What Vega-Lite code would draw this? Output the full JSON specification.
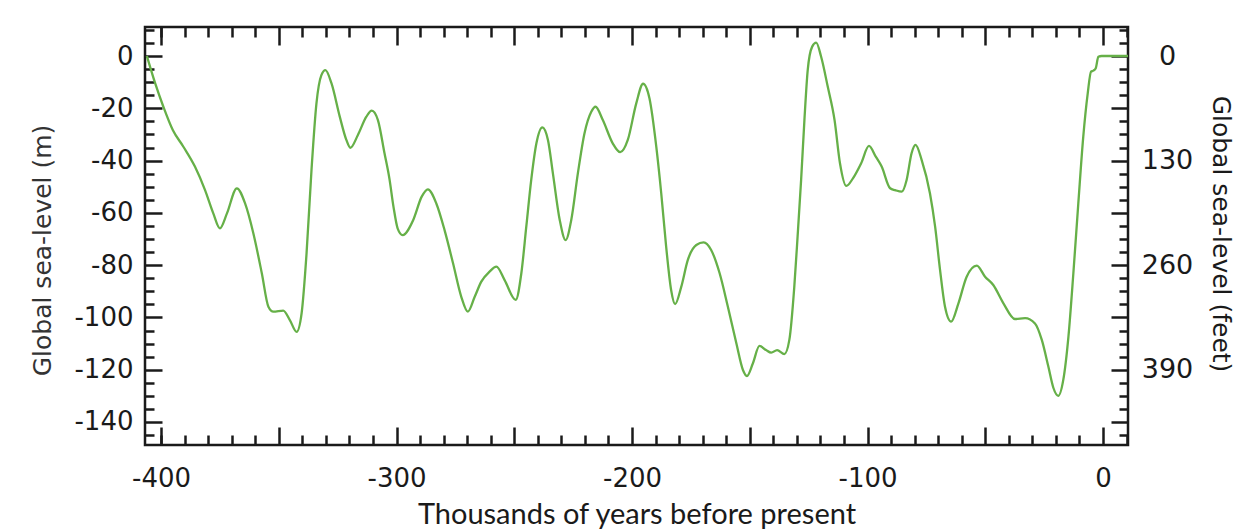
{
  "$schema": "https://vega.github.io/schema/vega-lite/v6.json",
  "width": 983,
  "height": 418,
  "autosize": {"type": "none"},
  "padding": {"left": 145, "top": 27, "right": 115, "bottom": 86},
  "background": "white",
  "config": {
    "view": {"stroke": "#1a1a1a", "strokeWidth": 2.5},
    "axis": {"domain": false, "grid": false, "tickColor": "#1a1a1a", "tickWidth": 2.5, "labelFont": "DejaVu Sans", "labelColor": "#1a1a1a", "labelFontSize": 26, "titleFontWeight": "normal"}
  },
  "data": {"values": [
    {"t": -406, "m": 0}, {"t": -402.5, "m": -10.4}, {"t": -399, "m": -19.4}, {"t": -395, "m": -28.3},
    {"t": -390.5, "m": -34.7}, {"t": -385.6, "m": -42.3}, {"t": -381.3, "m": -51.3}, {"t": -377.8, "m": -60.2},
    {"t": -375, "m": -65.9}, {"t": -372, "m": -60.2}, {"t": -367.8, "m": -50.6}, {"t": -364.3, "m": -56.4},
    {"t": -360.8, "m": -67.8}, {"t": -357.2, "m": -83.1}, {"t": -354.4, "m": -95.9}, {"t": -352.3, "m": -97.8},
    {"t": -348.1, "m": -97.4}, {"t": -345.3, "m": -101}, {"t": -342.4, "m": -105.5}, {"t": -340.3, "m": -98.4},
    {"t": -338.2, "m": -75.5}, {"t": -336.1, "m": -43.6}, {"t": -334, "m": -18.1}, {"t": -331.9, "m": -7.3},
    {"t": -330.2, "m": -5.4}, {"t": -327.6, "m": -10.5}, {"t": -324.1, "m": -23.2}, {"t": -321.3, "m": -32.1},
    {"t": -319.6, "m": -35.1}, {"t": -316.4, "m": -30.2}, {"t": -312.8, "m": -23.2}, {"t": -310.5, "m": -20.9},
    {"t": -307.9, "m": -24.5}, {"t": -305.1, "m": -37.2}, {"t": -303, "m": -47}, {"t": -301.3, "m": -57.6},
    {"t": -299.5, "m": -66}, {"t": -297.4, "m": -68.5}, {"t": -292.9, "m": -62.7}, {"t": -289.3, "m": -53.8},
    {"t": -286.7, "m": -51}, {"t": -283.1, "m": -56.4}, {"t": -279.6, "m": -66.6}, {"t": -276, "m": -79.3},
    {"t": -272.5, "m": -92.1}, {"t": -269.7, "m": -97.8}, {"t": -266.8, "m": -92.1}, {"t": -264, "m": -86.3},
    {"t": -260.5, "m": -82.5}, {"t": -257.6, "m": -80.6}, {"t": -254.1, "m": -85.7}, {"t": -249.4, "m": -93.3},
    {"t": -247, "m": -83.1}, {"t": -244.9, "m": -65.3}, {"t": -242.8, "m": -47.4}, {"t": -240.6, "m": -33.4},
    {"t": -238.1, "m": -27.3}, {"t": -235.7, "m": -32.1}, {"t": -233.6, "m": -44.9}, {"t": -230.7, "m": -62.7},
    {"t": -228.2, "m": -70.4}, {"t": -225.8, "m": -62.7}, {"t": -223, "m": -44.9}, {"t": -220.2, "m": -29.6},
    {"t": -217.3, "m": -21.3}, {"t": -215.5, "m": -19.4}, {"t": -212.4, "m": -24.5}, {"t": -208.2, "m": -33.4},
    {"t": -205, "m": -36.8}, {"t": -201.8, "m": -32.1}, {"t": -198.2, "m": -18.1}, {"t": -195.3, "m": -10.6},
    {"t": -192.6, "m": -16.2}, {"t": -189.7, "m": -34.7}, {"t": -187.6, "m": -52.5}, {"t": -185.5, "m": -73},
    {"t": -183.4, "m": -89.5}, {"t": -181.7, "m": -94.9}, {"t": -179.1, "m": -88.3}, {"t": -176.3, "m": -78},
    {"t": -172.7, "m": -72.3}, {"t": -169.6, "m": -71.3}, {"t": -166.4, "m": -74.2}, {"t": -162.8, "m": -83.1},
    {"t": -159.3, "m": -95.9}, {"t": -155.7, "m": -109.9}, {"t": -152.9, "m": -120.1}, {"t": -151.2, "m": -122.4},
    {"t": -148.7, "m": -117.6}, {"t": -145.9, "m": -110.9}, {"t": -143.1, "m": -112.5}, {"t": -140.9, "m": -113.5},
    {"t": -138.4, "m": -112.5}, {"t": -135.3, "m": -114}, {"t": -133.2, "m": -108.6}, {"t": -131.1, "m": -88.3},
    {"t": -129.7, "m": -69.1}, {"t": -128.2, "m": -47.4}, {"t": -126.8, "m": -24.5}, {"t": -125.4, "m": -5.4},
    {"t": -123.5, "m": 3.6}, {"t": -121.8, "m": 5.1}, {"t": -119.7, "m": -0.3}, {"t": -116.9, "m": -11.7},
    {"t": -114, "m": -24.5}, {"t": -111.7, "m": -41}, {"t": -109, "m": -49.7}, {"t": -106.2, "m": -46.8},
    {"t": -102.7, "m": -41}, {"t": -99.4, "m": -34.4}, {"t": -96.5, "m": -38.5}, {"t": -94, "m": -42.3},
    {"t": -90.4, "m": -50.6}, {"t": -88.3, "m": -51.3}, {"t": -85.5, "m": -51.9}, {"t": -83.4, "m": -47.4},
    {"t": -81.3, "m": -37.2}, {"t": -79.6, "m": -34}, {"t": -77, "m": -39.8}, {"t": -73.5, "m": -52.5},
    {"t": -71.3, "m": -65.3}, {"t": -69.2, "m": -81.9}, {"t": -67.1, "m": -95.9}, {"t": -64.5, "m": -101.6},
    {"t": -61.4, "m": -94.6}, {"t": -57.9, "m": -84.4}, {"t": -53.6, "m": -80.2}, {"t": -50.1, "m": -84.4},
    {"t": -46.6, "m": -87.6}, {"t": -42.3, "m": -94.6}, {"t": -37.4, "m": -100.6}, {"t": -33.1, "m": -100.3},
    {"t": -28.9, "m": -102.3}, {"t": -26, "m": -108.6}, {"t": -23.2, "m": -118.9}, {"t": -21.1, "m": -126.9},
    {"t": -19, "m": -130}, {"t": -16.9, "m": -124}, {"t": -14.7, "m": -107.4}, {"t": -12.6, "m": -83.1},
    {"t": -10.5, "m": -56.4}, {"t": -8.4, "m": -30.9}, {"t": -6.5, "m": -14.3}, {"t": -5.1, "m": -6},
    {"t": -4.1, "m": -5.6}, {"t": -3.1, "m": -4.7}, {"t": -2, "m": -0.3}, {"t": -0.6, "m": 0},
    {"t": 10.6, "m": 0}
  ]},
  "layer": [
    {
      "mark": {"type": "line", "color": "#66b048", "strokeWidth": 2.3, "interpolate": "monotone", "clip": true},
      "encoding": {
        "x": {"field": "t", "type": "quantitative",
          "scale": {"domain": [-406.8, 10.6], "nice": false, "zero": false},
          "axis": {"orient": "bottom", "values": [-400, -350, -300, -250, -200, -150, -100, -50, 0],
            "labelExpr": "datum.value % 100 == 0 ? '' + datum.value : ''",
            "tickSize": -18, "labelPadding": 38, "labelFlush": false,
            "title": "Thousands of years before present", "titleFont": "Lato", "titleFontSize": 29,
            "titleColor": "#1a1a1a", "titleX": 491.5, "titleY": 78, "titleAlign": "center", "titleBaseline": "alphabetic"}},
        "y": {"field": "m", "type": "quantitative",
          "scale": {"domain": [-148.8, 11.1], "nice": false, "zero": false},
          "axis": {"orient": "left", "values": [-140, -120, -100, -80, -60, -40, -20, 0],
            "labelExpr": "'' + datum.value",
            "tickSize": -17, "labelPadding": 29, "labelFlush": false,
            "title": "Global sea-level (m)", "titleFont": "DejaVu Sans", "titleFontSize": 25, "titleColor": "#333333",
            "titleAngle": -90, "titleX": -103, "titleY": 223, "titleAlign": "center", "titleBaseline": "middle"}}
      }
    },
    {
      "mark": {"type": "point", "opacity": 0},
      "encoding": {
        "x": {"field": "t", "type": "quantitative",
          "axis": {"orient": "bottom", "values": [-400, -390, -380, -370, -360, -340, -330, -320, -310, -290, -280, -270, -260, -240, -230, -220, -210, -190, -180, -170, -160, -140, -130, -120, -110, -90, -80, -70, -60, -40, -30, -20, -10, 10],
            "tickSize": -10, "labels": false, "title": null}},
        "y": {"field": "m", "type": "quantitative",
          "axis": {"orient": "left", "values": [-145, -135, -130, -125, -115, -110, -105, -95, -90, -85, -75, -70, -65, -55, -50, -45, -35, -30, -25, -15, -10, -5, 5, 10],
            "tickSize": -9, "labels": false, "title": null}}
      }
    },
    {
      "mark": {"type": "point", "opacity": 0},
      "encoding": {
        "x": {"field": "t", "type": "quantitative",
          "axis": {"orient": "top", "values": [-400, -350, -300, -250, -200, -150, -100, -50, 0],
            "tickSize": -18, "labels": false, "title": null}},
        "y": {"field": "m", "type": "quantitative",
          "axis": {"orient": "right", "values": [-140, -120, -100, -80, -60, -40, -20, 0],
            "tickSize": -17, "labelPadding": 56, "labelAlign": "center", "labelFontSize": 27, "labelFlush": false,
            "labelExpr": "datum.value == 0 ? '0' : datum.value == -40 ? '130' : datum.value == -80 ? '260' : datum.value == -120 ? '390' : ''",
            "title": "Global sea-level (feet)", "titleFont": "DejaVu Sans", "titleFontSize": 25, "titleColor": "#1a1a1a",
            "titleAngle": 90, "titleX": 92, "titleY": 206.5, "titleAlign": "center", "titleBaseline": "middle"}}
      }
    },
    {
      "mark": {"type": "point", "opacity": 0},
      "encoding": {
        "x": {"field": "t", "type": "quantitative",
          "axis": {"orient": "top", "values": [-400, -390, -380, -370, -360, -340, -330, -320, -310, -290, -280, -270, -260, -240, -230, -220, -210, -190, -180, -170, -160, -140, -130, -120, -110, -90, -80, -70, -60, -40, -30, -20, -10, 10],
            "tickSize": -10, "labels": false, "title": null}},
        "y": {"field": "m", "type": "quantitative",
          "axis": {"orient": "right", "values": [-145, -135, -130, -125, -115, -110, -105, -95, -90, -85, -75, -70, -65, -55, -50, -45, -35, -30, -25, -15, -10, -5, 5, 10],
            "tickSize": -9, "labels": false, "title": null}}
      }
    }
  ],
  "resolve": {"axis": {"x": "independent", "y": "independent"}}
}
